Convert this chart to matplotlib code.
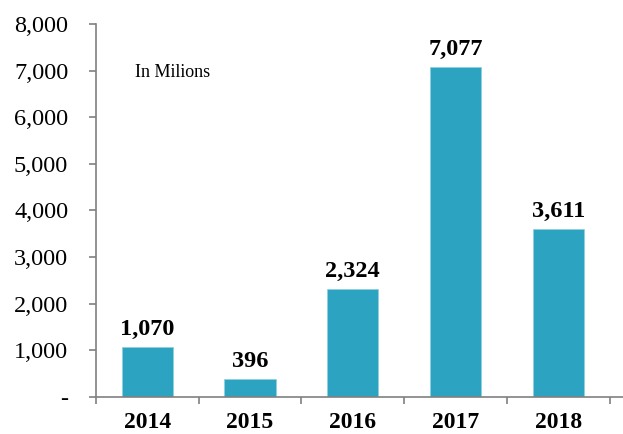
import matplotlib
matplotlib.use("Agg")
import matplotlib.pyplot as plt
from matplotlib.ticker import FuncFormatter, FixedLocator

years = ["2014", "2015", "2016", "2017", "2018"]
values = [1070, 396, 2324, 7077, 3611]
y_ticks = [0, 1000, 2000, 3000, 4000, 5000, 6000, 7000, 8000]

plt.rcParams['font.family'] = ['Liberation Serif', 'DejaVu Serif']

fig = plt.figure(figsize=(6.23, 4.34), dpi=100)
ax = fig.add_axes([0.154, 0.0853, 0.846, 0.8594])

x = range(len(years))
ax.bar(x, values, width=0.5, color='#2CA3C0', edgecolor='#8fd0df', linewidth=0.6, zorder=2)

for xi, v in zip(x, values):
    ax.text(xi, v + 150, f"{v:,}", ha='center', va='bottom',
            fontsize=17.5, fontweight='bold')

ax.set_xlim(-0.5, 4.63)
ax.set_ylim(0, 8000)
ax.set_yticks(y_ticks)
ax.yaxis.set_major_formatter(FuncFormatter(lambda v, p: "-" if v == 0 else f"{int(v):,}"))

ax.set_xticks(list(x))
ax.set_xticklabels(years, fontsize=17, fontweight='bold')
ax.xaxis.set_minor_locator(FixedLocator([i - 0.5 for i in range(len(years) + 1)]))
ax.tick_params(axis='x', which='major', length=0, pad=11)
ax.tick_params(axis='x', which='minor', length=5, width=1.2, color='#808080', direction='out')
ax.tick_params(axis='y', length=5, width=1.2, color='#808080', direction='out',
               labelsize=17.5, pad=15)

for s in ['top', 'right']:
    ax.spines[s].set_visible(False)
for s in ['left', 'bottom']:
    ax.spines[s].set_color('#808080')
    ax.spines[s].set_linewidth(1.2)

ax.text(0.146, 0.871, "In Milions", transform=ax.transAxes, fontsize=13,
        ha='center', va='center')

fig.savefig("out.png", dpi=100)
